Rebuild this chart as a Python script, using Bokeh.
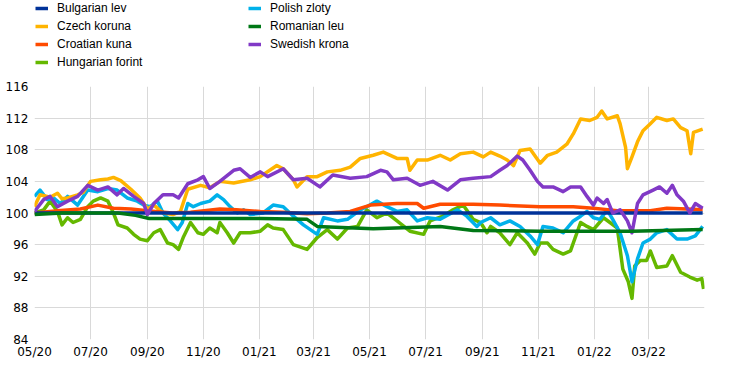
import pandas as pd
from bokeh.plotting import figure
from bokeh.layouts import column
from bokeh.models import Legend, LegendItem, FixedTicker, DatetimeTickFormatter, Range1d
from bokeh.embed import file_html
from bokeh.resources import INLINE

# Index levels (start of period = 100); x given as days since 1 May 2020
START = pd.Timestamp("2020-05-01")
END = pd.Timestamp("2022-05-01")

bgn_days = [0, 728]
bgn_vals = [100.0, 100.0]

czk_days = [0, 6, 17, 25, 30, 36, 47, 53, 61, 72, 80, 86, 94, 105, 115, 123, 130, 140, 151, 159, 167, 181, 191, 202, 217, 235,
            246, 264, 271, 282, 286, 297, 308, 319, 333, 344, 355, 369, 380, 395, 406, 409, 417, 428, 442, 453, 464, 478, 489, 497,
            507, 515, 522, 529, 540, 551, 559, 569, 580, 587, 595, 605, 613, 618, 624, 635, 638, 644, 646, 651, 657, 663, 671, 678,
            689, 696, 704, 711, 715, 718, 728]
czk_vals = [100.8, 102.3, 102.0, 102.5, 101.8, 101.9, 102.3, 102.6, 104.0, 104.2, 104.3, 104.5, 104.1, 103.0, 101.9, 100.5, 101.0, 100.0, 99.8, 100.2, 103.0, 103.5, 103.2, 104.0, 103.8, 104.2,
            104.6, 106.0, 105.6, 104.2, 103.3, 104.6, 104.6, 105.2, 105.4, 105.8, 106.9, 107.3, 107.7, 106.9, 106.9, 105.4, 106.7, 106.7, 107.3, 106.7, 107.5, 107.7, 107.1, 107.7,
            107.2, 106.7, 106.0, 107.9, 108.1, 106.3, 107.3, 107.7, 108.7, 110.0, 111.9, 111.7, 112.1, 112.9, 111.9, 112.3, 111.3, 108.3, 105.6, 107.1, 109.0, 110.4, 111.3, 112.1,
            111.7, 111.9, 110.8, 110.4, 107.5, 110.2, 110.6]

hrk_days = [0, 25, 50, 69, 86, 105, 123, 150, 170, 202, 220, 246, 271, 297, 319, 344, 366, 395, 417, 424, 442, 478, 507, 551, 587,
            609, 635, 671, 689, 711, 728]
hrk_vals = [100.0, 100.3, 100.5, 101.0, 100.6, 100.5, 100.3, 100.0, 100.1, 100.5, 100.4, 100.2, 100.1, 99.9, 100.0, 100.2, 101.0, 101.2, 101.2, 100.6, 101.1, 101.1, 101.0, 100.8, 100.8,
            100.6, 100.3, 100.3, 100.6, 100.5, 100.4]

huf_days = [0, 10, 17, 25, 30, 36, 42, 50, 58, 64, 72, 80, 86, 91, 101, 108, 115, 123, 130, 137, 145, 151, 157, 162, 170, 178, 184,
            191, 199, 202, 210, 217, 224, 235, 246, 254, 260, 271, 282, 297, 308, 319, 330, 341, 352, 362, 373, 384, 395, 409, 424, 431,
            445, 456, 467, 478, 486, 493, 497, 507, 518, 526, 537, 545, 551, 559, 565, 576, 584, 595, 602, 609, 620, 627, 635, 641, 647,
            651, 654, 660, 667, 671, 678, 689, 695, 704, 714, 722, 727, 729]
huf_vals = [100.0, 100.4, 101.5, 100.2, 98.5, 99.4, 98.8, 99.2, 100.8, 101.5, 101.9, 101.5, 100.0, 98.5, 98.1, 97.3, 96.7, 96.5, 97.5, 97.9, 96.2, 96.0, 95.4, 96.9, 98.8, 97.5, 97.3,
            98.1, 97.5, 98.8, 97.5, 96.2, 97.5, 97.5, 97.7, 98.5, 98.1, 97.9, 96.0, 95.4, 96.9, 97.9, 96.7, 98.1, 98.3, 100.4, 99.4, 100.0, 99.0, 97.7, 97.3, 99.0,
            99.6, 100.4, 101.0, 99.2, 98.8, 97.5, 98.3, 97.5, 96.0, 97.5, 96.2, 94.8, 96.2, 96.2, 95.4, 94.8, 95.2, 98.8, 98.3, 97.9, 99.4, 98.8, 98.1, 92.9, 91.3,
            89.2, 93.3, 94.0, 94.0, 95.2, 93.1, 93.3, 94.6, 92.5, 91.9, 91.5, 91.7, 90.4]

pln_days = [0, 6, 14, 21, 28, 36, 47, 58, 69, 80, 90, 101, 112, 119, 126, 134, 140, 148, 156, 161, 167, 173, 181, 191, 199, 206,
            213, 221, 228, 235, 249, 260, 271, 282, 293, 308, 315, 330, 341, 355, 362, 373, 384, 395, 406, 417, 428, 442, 461, 471, 482,
            486, 497, 507, 518, 529, 540, 548, 554, 565, 576, 587, 595, 602, 609, 616, 624, 630, 638, 646, 651, 657, 663, 671, 678, 689,
            700, 711, 720, 728]
pln_vals = [102.1, 102.9, 101.7, 101.9, 101.2, 102.1, 101.0, 102.9, 102.7, 103.1, 102.9, 101.9, 101.5, 101.0, 100.8, 101.5, 100.0, 99.0, 97.9, 98.8, 101.2, 100.8, 101.2, 101.5, 102.3, 101.7,
            100.8, 100.0, 100.4, 99.8, 100.0, 101.0, 100.8, 99.6, 98.5, 97.3, 99.4, 99.0, 99.2, 100.4, 100.8, 101.5, 100.8, 100.2, 100.4, 99.0, 99.4, 99.2, 100.4, 99.6, 98.3,
            98.8, 99.4, 98.5, 99.0, 98.3, 97.1, 96.0, 98.3, 98.1, 97.5, 99.0, 99.6, 100.2, 99.4, 99.2, 100.4, 99.2, 97.5, 94.6, 91.3, 94.2, 96.2, 96.7, 97.5, 97.9,
            96.7, 96.7, 97.1, 98.3]

ron_days = [0, 30, 91, 110, 125, 184, 246, 297, 308, 369, 442, 478, 551, 651, 728]
ron_vals = [99.8, 100.0, 100.0, 99.7, 99.3, 99.3, 99.3, 99.2, 98.3, 98.0, 98.3, 97.8, 97.7, 97.7, 97.9]

sek_days = [0, 10, 17, 25, 36, 47, 58, 69, 80, 90, 97, 108, 119, 123, 130, 140, 151, 157, 167, 178, 184, 191, 202, 217, 224, 235,
            246, 254, 271, 282, 297, 311, 325, 344, 362, 377, 384, 391, 406, 420, 434, 450, 464, 478, 497, 507, 515, 526, 532, 540,
            548, 554, 565, 576, 584, 595, 602, 609, 613, 620, 624, 630, 638, 646, 651, 657, 663, 674, 681, 689, 695, 700, 707, 714,
            720, 728]
sek_vals = [100.2, 101.7, 102.1, 100.8, 101.5, 102.1, 103.5, 102.9, 103.3, 102.3, 103.1, 102.1, 101.2, 99.8, 101.2, 102.3, 102.3, 101.9, 103.7, 104.2, 104.6, 103.1, 104.0, 105.4, 105.6, 104.5,
            105.2, 104.6, 105.6, 104.2, 104.4, 103.3, 104.8, 104.4, 104.6, 105.4, 105.2, 104.2, 104.4, 103.5, 104.0, 102.9, 104.2, 104.4, 104.6, 105.4, 106.0, 107.2, 106.7, 105.4,
            104.0, 103.3, 103.3, 102.7, 103.3, 103.3, 102.1, 101.0, 101.9, 101.2, 101.7, 100.0, 100.4, 99.0, 97.5, 101.2, 102.3, 102.9, 103.3, 102.5, 103.5, 102.3, 101.5, 100.0,
            101.2, 100.6]

tick_dates = ["2020-05-01", "2020-07-01", "2020-09-01", "2020-11-01", "2021-01-01", "2021-03-01",
              "2021-05-01", "2021-07-01", "2021-09-01", "2021-11-01", "2022-01-01", "2022-03-01"]
y_ticks = [84, 88, 92, 96, 100, 104, 108, 112, 116]

series = [
    ("Bulgarian lev", bgn_days, bgn_vals, "#003299"),
    ("Czech koruna", czk_days, czk_vals, "#FFB400"),
    ("Croatian kuna", hrk_days, hrk_vals, "#FF4B00"),
    ("Hungarian forint", huf_days, huf_vals, "#65B800"),
    ("Polish zloty", pln_days, pln_vals, "#00B1EA"),
    ("Romanian leu", ron_days, ron_vals, "#007816"),
    ("Swedish krona", sek_days, sek_vals, "#8139C6"),
]
draw_order = ["Hungarian forint", "Polish zloty", "Czech koruna", "Croatian kuna",
              "Bulgarian lev", "Swedish krona", "Romanian leu"]
legend_col1 = ["Bulgarian lev", "Czech koruna", "Croatian kuna", "Hungarian forint"]
legend_col2 = ["Polish zloty", "Romanian leu", "Swedish krona"]

LEG_FONT = "Liberation Sans"
TICK_FONT = "DejaVu Sans"
LW = 3.5
LEG_H = 70

# ---- main chart ----
p = figure(width=735, height=361 - LEG_H, x_axis_type="datetime", output_backend="svg",
           toolbar_location=None, x_range=Range1d(START, END), y_range=Range1d(84, 116),
           min_border_left=34, min_border_right=31, min_border_top=16, min_border_bottom=20)
p.outline_line_color = None
p.background_fill_color = "white"
p.border_fill_color = "white"

lookup = {s[0]: s for s in series}
for name in draw_order:
    _, d, v, c = lookup[name]
    x = START + pd.to_timedelta(d, unit="D")
    p.line(x=x, y=v, line_color=c, line_width=LW, line_join="round")

tick_ms = [pd.Timestamp(t).value / 1e6 for t in tick_dates]
p.xaxis.ticker = FixedTicker(ticks=tick_ms)
fmt = "%m/%y"
p.xaxis.formatter = DatetimeTickFormatter(milliseconds=fmt, seconds=fmt, minsec=fmt, minutes=fmt,
                                          hourmin=fmt, hours=fmt, days=fmt, months=fmt, years=fmt)
p.yaxis.ticker = FixedTicker(ticks=y_ticks)

for ax in (p.xaxis[0], p.yaxis[0]):
    ax.axis_line_color = None
    ax.major_tick_line_color = None
    ax.minor_tick_line_color = None
    ax.major_tick_out = 0
    ax.major_tick_in = 0
    ax.major_label_text_font = TICK_FONT
    ax.major_label_text_font_size = "12px"
    ax.major_label_text_color = "#000000"
p.yaxis.major_label_standoff = 6
p.xaxis.major_label_standoff = 5

p.xgrid.grid_line_color = "#d9d9d9"
p.ygrid.grid_line_color = "#d9d9d9"
p.xgrid.grid_line_width = 1
p.ygrid.grid_line_width = 1

# ---- legend strip above the chart (its frame is aligned with the chart's frame) ----
pl = figure(width=735, height=LEG_H, output_backend="svg", toolbar_location=None,
            x_range=Range1d(0, 1), y_range=Range1d(0, 1),
            x_axis_location=None, y_axis_location=None,
            min_border_left=0, min_border_right=0, min_border_top=0, min_border_bottom=0)
pl.outline_line_color = None
pl.grid.visible = False
pl.border_fill_color = "white"

# invisible carriers for the legend swatches (a single missing value: nothing is drawn)
swatches = {}
for name, _, _, c in series:
    swatches[name] = pl.line(x=[float("nan")], y=[float("nan")], line_color=c, line_width=LW)

def make_legend(names, loc):
    items = [LegendItem(label=n, renderers=[swatches[n]]) for n in names]
    return Legend(items=items, location=loc, orientation="vertical", border_line_color=None,
                  background_fill_alpha=0, padding=0, margin=0, spacing=4,
                  label_text_font=LEG_FONT, label_text_font_size="12px", label_text_color="#000000",
                  glyph_width=13, glyph_height=12, label_height=12, label_standoff=9)

pl.add_layout(make_legend(legend_col1, (1, 1)), "center")
pl.add_layout(make_legend(legend_col2, (214, 19)), "center")

layout = column(pl, p, spacing=0)
open("out.html", "w").write(file_html(layout, INLINE))
